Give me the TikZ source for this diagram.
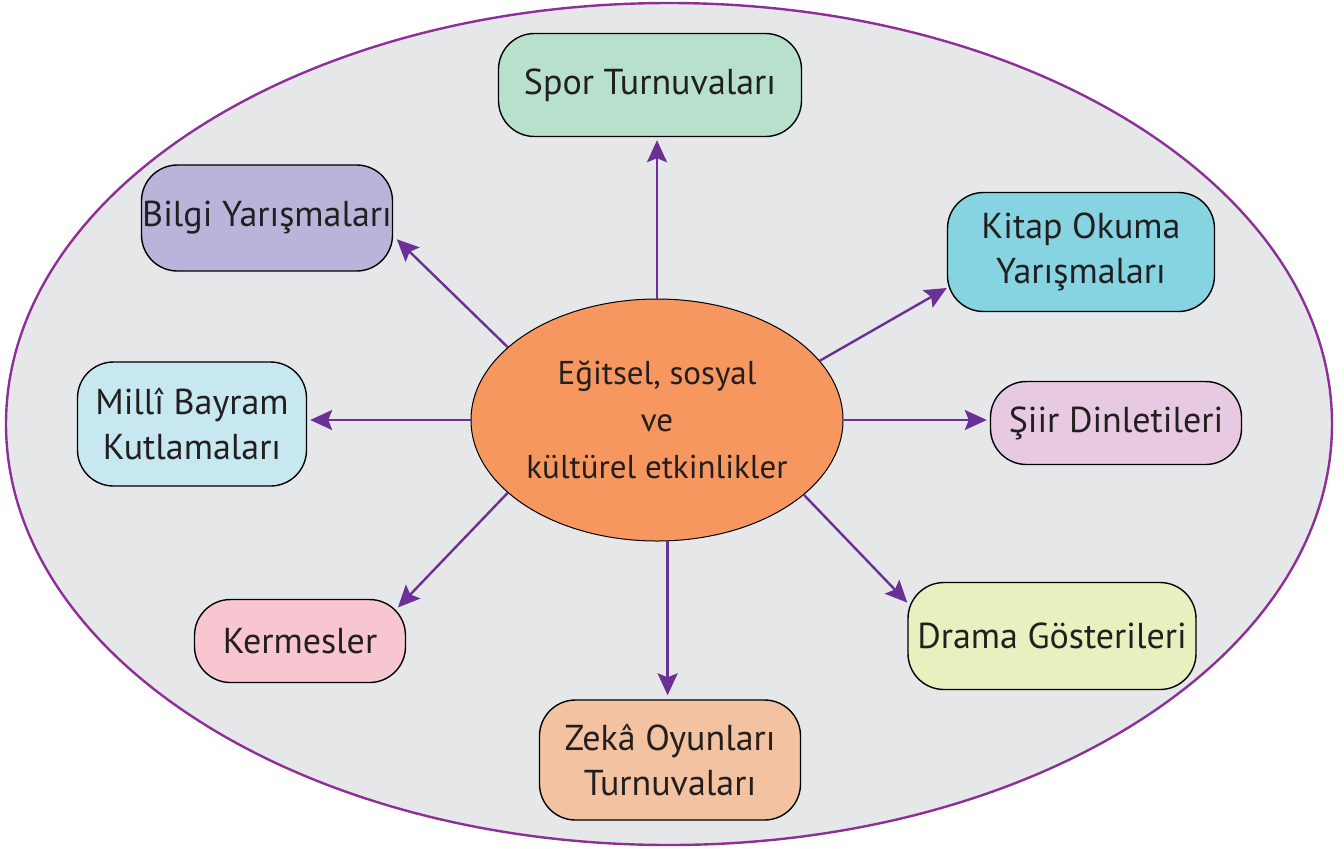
\documentclass[tikz,border=0pt]{standalone}
\usepackage{fontspec}
\setmainfont{PT Sans}
\usetikzlibrary{arrows.meta,calc,shapes.geometric}
\definecolor{bgout}{HTML}{E6E7E9}
\definecolor{outline}{HTML}{8E2F98}
\definecolor{arrowc}{HTML}{6A3096}
\definecolor{centerc}{HTML}{F6975F}
\definecolor{sporc}{HTML}{B7E1CD}
\definecolor{bilgic}{HTML}{B9B4D9}
\definecolor{kitapc}{HTML}{86D4E2}
\definecolor{millic}{HTML}{C8E8F1}
\definecolor{siirc}{HTML}{E7C9E2}
\definecolor{kermesc}{HTML}{F7C6D0}
\definecolor{dramac}{HTML}{E8F0BF}
\definecolor{zekac}{HTML}{F3C3A1}
\definecolor{txt}{HTML}{231F20}
\newcommand\boxfont{\fontsize{18}{22.5}\selectfont}
\begin{document}
\begin{tikzpicture}[x=0.5pt,y=-0.5pt,
  topic/.style={draw=black, line width=0.7pt, rounded corners=18pt, inner sep=0pt,
    align=center, font=\boxfont, text=txt},
  hub/.style={draw=black, line width=0.5pt, ellipse, inner sep=0pt, align=center,
    font=\fontsize{16.5}{23.5}\selectfont, text=txt, fill=centerc,
    minimum width=186pt, minimum height=121pt},
  arr/.style={draw=arrowc, line width=1.2pt, -{Stealth[length=11pt,width=10pt,inset=2pt]}}]
\useasboundingbox (0,0) rectangle (1344,848);
\draw[fill=bgout, draw=outline, line width=1.2pt] (669,424) ellipse [x radius=331.5pt, y radius=210.5pt];

\node[hub] (c) at (657,420) {Eğitsel, sosyal\\ve\\kültürel etkinlikler};

\node[topic, fill=sporc, minimum width=151.5pt, minimum height=51.5pt] (spor) at (650,85) {Spor Turnuvaları};
\node[topic, fill=bilgic, minimum width=125.5pt, minimum height=53pt] (bilgi) at (267,218) {Bilgi Yarışmaları};
\node[topic, fill=kitapc, minimum width=133.5pt, minimum height=59.5pt] (kitap) at (1081,252) {Kitap Okuma\\Yarışmaları};
\node[topic, fill=millic, minimum width=114.5pt, minimum height=62pt] (milli) at (192,424) {Millî Bayram\\Kutlamaları};
\node[topic, fill=siirc, minimum width=125.5pt, minimum height=41.5pt] (siir) at (1116,423) {Şiir Dinletileri};
\node[topic, fill=kermesc, minimum width=105.5pt, minimum height=41.5pt] (kermes) at (300,641) {Kermesler};
\node[topic, fill=dramac, minimum width=144pt, minimum height=53.5pt] (drama) at (1052,636) {Drama Gösterileri};
\node[topic, fill=zekac, minimum width=130.5pt, minimum height=60pt] (zeka) at (670,760) {Zekâ Oyunları\\Turnuvaları};

\draw[arr, shorten >=1.5pt] (c.north) -- (c.north |- spor.south);
\draw[arr, shorten >=2.5pt] (c.154) -- (bilgi.-8.7);
\draw[arr] (c.20) -- (kitap.195);
\draw[arr, shorten >=1.5pt] (c.west) -- (c.west -| milli.east);
\draw[arr, shorten >=1.5pt] (c.east) -- (c.east -| siir.west);
\draw[arr, shorten >=-6pt] (c.206.7) -- (kermes.north east);
\draw[arr] (c.-27.7) -- (drama.167);
\draw[arr, shorten >=2pt] (c.-85) -- (c.-85 |- zeka.north);
\end{tikzpicture}
\end{document}
